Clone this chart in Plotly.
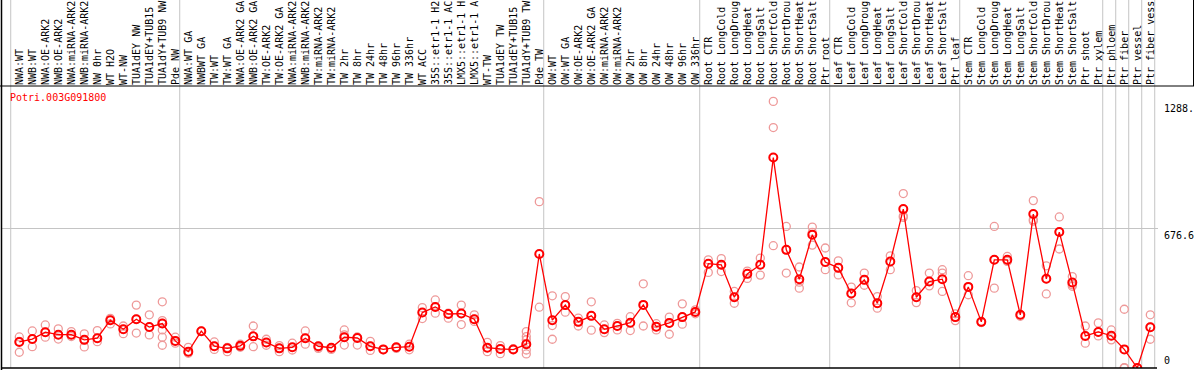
import plotly.graph_objects as go

gene = "Potri.003G091800"

categories = [
    "NWA:WT", "NWB:WT", "NWA:OE-ARK2", "NWB:OE-ARK2", "NWA:miRNA-ARK2", "NWB:miRNA-ARK2",
    "NW 0hr", "WT H2O", "WT-NW", "TUA1dEY NW", "TUA1dEY+TUB15", "TUA1dY+TUB9 NW", "Pde NW",
    "NWA:WT GA", "NWBWT GA", "TW:WT", "TW:WT GA", "NWA:OE-ARK2 GA", "NWB:OE-ARK2 GA",
    "TW:OE-ARK2", "TW:OE-ARK2 GA", "NWA:miRNA-ARK2", "NWB:miRNA-ARK2", "TW:miRNA-ARK2",
    "TW:miRNA-ARK2", "TW 2hr", "TW 8hr", "TW 24hr", "TW 48hr", "TW 96hr", "TW 336hr",
    "WT ACC", "35S::etr1-1 H2", "35S::etr1-1 AC", "LMX5::etr1-1 H", "LMX5::etr1-1 A",
    "WT-TW", "TUA1dEY TW", "TUA1dEY+TUB15", "TUA1dY+TUB9 TW", "Pde TW",
    "OW:WT", "OW:WT GA", "OW:OE-ARK2", "OW:OE-ARK2 GA", "OW:miRNA-ARK2", "OW:miRNA-ARK2",
    "OW 2hr", "OW 8hr", "OW 24hr", "OW 48hr", "OW 96hr", "OW 336hr",
    "Root CTR", "Root LongCold", "Root LongDroug", "Root LongHeat", "Root LongSalt",
    "Root ShortCold", "Root ShortDrou", "Root ShortHeat", "Root ShortSalt", "Ptr root",
    "Leaf CTR", "Leaf LongCold", "Leaf LongDroug", "Leaf LongHeat", "Leaf LongSalt",
    "Leaf ShortCold", "Leaf ShortDrou", "Leaf ShortHeat", "Leaf ShortSalt", "Ptr leaf",
    "Stem CTR", "Stem LongCold", "Stem LongDroug", "Stem LongHeat", "Stem LongSalt",
    "Stem ShortCold", "Stem ShortDrou", "Stem ShortHeat", "Stem ShortSalt", "Ptr shoot",
    "Ptr xylem", "Ptr phloem", "Ptr fiber", "Ptr vessel", "Ptr fiber vess",
]

group_sizes = [13, 28, 12, 10, 10, 11, 1, 1, 1, 1]

mean_values = [
    126, 140, 173, 161, 161, 136, 144, 231, 187, 236, 198, 215, 131,
    79, 178, 105, 95, 107, 153, 123, 95, 100, 144, 105, 98, 149, 145, 105, 90, 100, 103,
    268, 295, 261, 263, 236, 98, 92, 89, 115, 551,
    231, 304, 223, 252, 187, 203, 219, 305, 199, 218, 246, 271,
    504, 499, 342, 455, 499, 1017, 571, 429, 644, 512,
    484, 360, 426, 313, 515, 768, 342, 418, 429, 246,
    392, 223, 523, 523, 257, 744, 431, 657, 413, 155, 174,
    156, 90, 0, 197,
]

replicates = [
    [150, 128, 76], [179, 140, 103], [208, 173, 149], [189, 161, 140], [176, 161, 152],
    [165, 136, 102], [181, 144, 127], [231, 213, 240], [203, 187, 166], [304, 236, 169],
    [257, 198, 160], [320, 229, 215, 184, 149, 110], [149, 131, 120],
    [100, 79, 71], [178, 178], [126, 105, 90], [100, 95, 79], [115, 107, 100],
    [203, 153, 103], [139, 123, 110], [108, 95, 79], [120, 100, 87], [179, 144, 115],
    [105, 100, 95], [98, 90], [184, 160, 149, 111], [145, 111, 150], [129, 105, 85],
    [90, 88], [100, 95], [115, 103, 88],
    [292, 268, 239], [329, 295, 265], [261, 241, 265], [304, 263, 210], [257, 236, 225],
    [124, 98, 79], [108, 92, 69], [89, 93], [176, 152, 136, 115, 87, 68], [804, 294],
    [349, 205, 139], [345, 304, 270], [241, 223, 203], [320, 252, 183], [208, 187, 171],
    [216, 203, 184], [248, 219, 181], [407, 305, 203], [199, 184, 214], [246, 218, 163],
    [310, 246, 212], [281, 271, 262],
    [523, 504, 462], [529, 499, 466], [370, 342, 313], [468, 455, 433], [531, 499, 449],
    [1288.4, 1162, 591], [684, 571, 459], [488, 415, 386], [681, 594, 655], [580, 512, 475],
    [518, 484, 450], [391, 360, 315], [459, 426, 400], [345, 313, 289], [542, 515, 475],
    [843, 735, 728], [374, 342, 316], [459, 418, 397], [475, 459, 370], [262, 246, 229],
    [446, 392, 354], [223, 220], [684, 523, 386], [539, 515, 520], [257, 250],
    [809, 717, 710], [494, 431, 358], [730, 657, 575], [442, 403, 395], [203, 155, 120],
    [218, 174, 155],
    [184, 156, 136], [284, 2, 0], [0, 0], [257, 197, 139],
]

y_mid = 676.6
y_top = 2 * y_mid

n = len(categories)
xs = list(range(n))
rep_x = [i for i, r in enumerate(replicates) for _ in r]
rep_y = [v for r in replicates for v in r]
ymax = max(rep_y)
# right-hand labels are 5 characters wide in the original
max_label = f"{ymax:.1f}"[:5]
mid_label = f"{y_mid:.1f}"[:5]

# layout geometry (pixels)
W, H = 1194, 370
ml, mr, mt, mb = 1, 36, 88, 2
pw, ph = W - ml - mr, H - mt - mb
step_px = 13.0
first_px = 19.3
x_lo = (ml - first_px) / step_px
x_hi = (ml + pw - first_px) / step_px

def py(px_y):
    return (H - mb - px_y) / ph

def pxp(px_x):
    return (px_x - ml) / pw

mono = "DejaVu Sans Mono"
grey = "#c4c4c4"

fig = go.Figure()
fig.add_trace(go.Scatter(
    x=rep_x, y=rep_y, mode="markers",
    marker=dict(symbol="circle-open", size=8, color="#ee9999", line=dict(width=1.3)),
    hoverinfo="skip", showlegend=False,
))
fig.add_trace(go.Scatter(
    x=xs, y=mean_values, mode="lines+markers",
    line=dict(color="#ff0000", width=1.3),
    marker=dict(symbol="circle-open", size=8, color="#ff0000", line=dict(width=2)),
    showlegend=False,
))

shapes = []
bounds = [0]
for g in group_sizes:
    bounds.append(bounds[-1] + g)
for k in bounds:
    shapes.append(dict(type="line", xref="x", yref="paper", x0=k - 0.66, x1=k - 0.66,
                       y0=0, y1=py(-5), line=dict(color=grey, width=1), layer="below"))
# frame lines
shapes.append(dict(type="line", xref="paper", yref="paper", x0=pxp(-2), x1=pxp(W + 2),
                   y0=py(86), y1=py(86), line=dict(color="black", width=1)))
shapes.append(dict(type="line", xref="paper", yref="paper", x0=pxp(1.5), x1=pxp(1.5),
                   y0=py(H + 2), y1=py(-2), line=dict(color="black", width=1.5)))
shapes.append(dict(type="line", xref="paper", yref="paper", x0=pxp(1), x1=pxp(1157),
                   y0=0, y1=0, line=dict(color="black", width=1.5)))
shapes.append(dict(type="line", xref="paper", yref="paper", x0=pxp(1193.5), x1=pxp(1193.5),
                   y0=py(86), y1=py(-2), line=dict(color="black", width=1)))

annotations = [
    dict(text=gene, xref="paper", yref="paper", x=pxp(8), y=py(97), xanchor="left",
         yanchor="middle", showarrow=False, font=dict(family=mono, size=10, color="#ff0000")),
    dict(text=max_label, xref="paper", yref="y", x=pxp(1162), y=ymax, xanchor="left",
         yanchor="top", showarrow=False, font=dict(family=mono, size=10, color="black")),
    dict(text=mid_label, xref="paper", yref="y", x=pxp(1162), y=y_mid, xanchor="left",
         yanchor="top", showarrow=False, font=dict(family=mono, size=10, color="black")),
    dict(text="0", xref="paper", yref="y", x=pxp(1162), y=0, xanchor="left",
         yanchor="bottom", showarrow=False, font=dict(family=mono, size=10, color="black")),
]

fig.update_layout(
    width=W, height=H,
    margin=dict(l=ml, r=mr, t=mt, b=mb, pad=0),
    paper_bgcolor="white", plot_bgcolor="white",
    shapes=shapes, annotations=annotations,
    xaxis=dict(range=[x_lo, x_hi], side="top", tickmode="array", tickvals=xs,
               ticktext=categories, tickangle=-90, ticks="", showgrid=False,
               zeroline=False, showline=False, ticklabelstandoff=2,
               tickfont=dict(family=mono, size=10, color="black")),
    yaxis=dict(range=[0, y_top], tickmode="array", tickvals=[y_mid], showticklabels=False,
               showgrid=True, gridcolor=grey, gridwidth=1, zeroline=False, showline=False),
)

fig.write_html("out.html", config={"displayModeBar": False},
               post_script="document.body.style.margin='0';document.body.style.overflow='hidden';")
